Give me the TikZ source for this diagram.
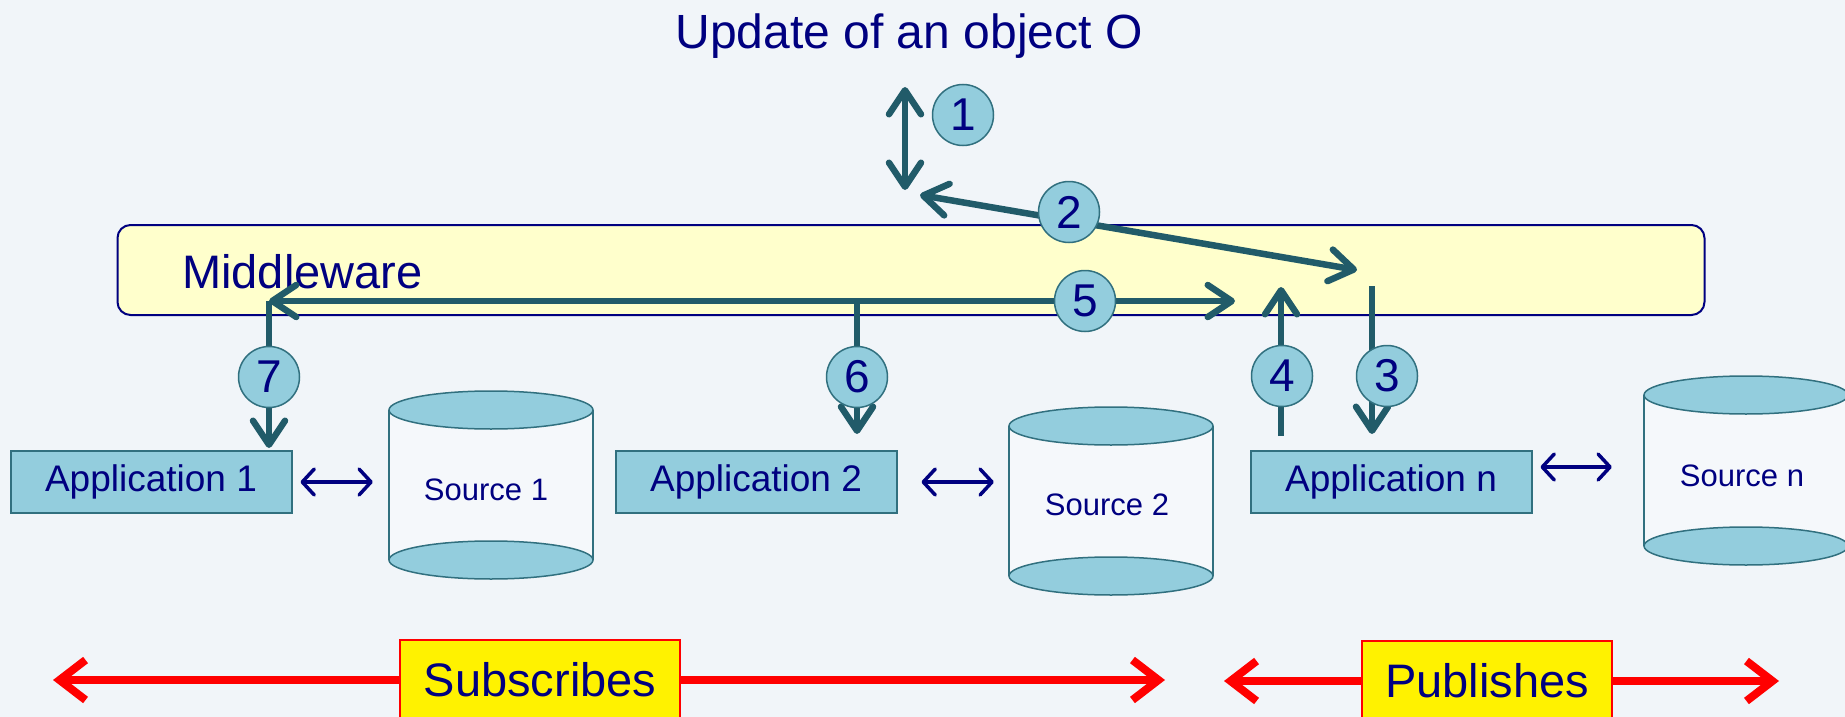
\documentclass[tikz,border=0pt]{standalone}
\usepackage{fontspec}
\setmainfont{Liberation Sans}
\usetikzlibrary{arrows.meta}
\definecolor{navy}{HTML}{000080}
\definecolor{tealA}{HTML}{215B69}
\definecolor{lblue}{HTML}{93CDDD}
\definecolor{boxedge}{HTML}{31707F}
\definecolor{bgc}{HTML}{F1F5F9}
\definecolor{mwfill}{HTML}{FFFFCC}
\newcommand{\mycyl}[3]{%
  \fill[white,opacity=0.35] (#1-102,#2) rectangle (#1+102,#3);
  \draw[cylline] (#1-102,#2) -- (#1-102,#3) (#1+102,#2) -- (#1+102,#3);
  \draw[cylline,fill=lblue] (#1,#3) ellipse [x radius=102pt, y radius=19pt];
  \draw[cylline,fill=lblue] (#1,#2) ellipse [x radius=102pt, y radius=19pt];}
\begin{document}
\begin{tikzpicture}[x=1pt,y=-1pt,
  tarr/.style={draw=tealA, line width=6.5pt, -{Straight Barb[length=24pt,width=32pt,round]}},
  tdbl/.style={draw=tealA, line width=6.5pt, {Straight Barb[length=24pt,width=32pt,round]}-{Straight Barb[length=24pt,width=32pt,round]}},
  num/.style={circle, draw=boxedge, line width=1.5pt, fill=lblue, text=navy, minimum size=61pt, inner sep=0pt, font=\fontsize{46pt}{46pt}\selectfont},
  appbox/.style={draw=boxedge, line width=2pt, fill=lblue, text=navy, minimum width=281pt, minimum height=62pt, inner sep=0pt, font=\fontsize{37pt}{40pt}\selectfont},
  srclabel/.style={text=navy, font=\fontsize{31pt}{34pt}\selectfont, minimum width=204pt, minimum height=40pt, inner sep=0pt},
  cylline/.style={draw=boxedge, line width=1.5pt},
  nav/.style={draw=navy, line width=3.5pt, {Straight Barb[length=12pt,width=26pt,round]}-{Straight Barb[length=12pt,width=26pt,round]}},
  redarr/.style={draw=red, line width=8pt, -{Straight Barb[length=26pt,width=40pt]}},
  tag/.style={draw=red, line width=1.5pt, fill=yellow, text=navy, minimum height=80pt, inner sep=0pt, font=\fontsize{47pt}{50pt}\selectfont}
]
\fill[bgc] (0,0) rectangle (1845,717);
\useasboundingbox (0,0) rectangle (1845,717);

% title
\node[text=navy, font=\fontsize{48pt}{50pt}\selectfont] (title) at (909,36) {Update of an object O};

% middleware
\node[draw=navy, line width=2pt, fill=mwfill, rounded corners=13pt, minimum width=1587pt, minimum height=90pt, inner sep=0pt] (mw) at (911,270) {};
\node[anchor=base west, text=navy, font=\fontsize{47pt}{50pt}\selectfont, inner sep=0pt] (mwlabel) at (182,288) {Middleware};

% applications
\node[appbox] (app1) at (151,482) {Application 1};
\node[appbox] (app2) at (756,482) {Application 2};
\node[appbox] (appn) at (1391,482) {Application n};

% sources
\mycyl{491}{410}{560}
\mycyl{1111}{426}{576}
\mycyl{1746}{395}{546}
\node[srclabel] (src1) at (486,490) {Source 1};
\node[srclabel] (src2) at (1107,505) {Source 2};
\node[srclabel] (srcn) at (1742,476) {Source n};

% app <-> source
\draw[nav, shorten <=8pt, shorten >=11pt] (app1.east) -- (app1.east -| src1.west);
\draw[nav, shorten <=24pt, shorten >=11pt] (app2.east) -- (app2.east -| src2.west);
\coordinate (an) at ([yshift=15pt]appn.east);
\draw[nav, shorten <=8pt, shorten >=28pt] (an) -- (an -| srcn.west);

% teal arrows
\coordinate (a1t) at (905,87);
\coordinate (a1b) at (905,190);
\draw[tdbl] (a1b) -- (a1t);
\coordinate (a2l) at (920,195);
\coordinate (a2r) at (1357,270);
\draw[tdbl] (a2l) -- (a2r);

\coordinate (j5) at (857,301);
\coordinate (j7) at (269,301);
\coordinate (e5) at (1235,301);
\draw[tarr] (j5) -- (j7);
\draw[tarr] (j5) -- (e5);
\draw[tarr, shorten >=2pt] (j7) -- (j7 |- app1.north);
\draw[tarr, shorten >=16pt] (j5) -- (j5 |- app2.north);

\coordinate (t4) at (1281,287);
\draw[tarr, shorten <=14pt] (t4 |- appn.north) -- (t4);
\coordinate (s3) at (1372,286);
\draw[tarr, shorten >=16pt] (s3) -- (s3 |- appn.north);

% numbers
\node[num] (n1) at (963,115) {1};
\node[num] (n2) at (1069,212) {2};
\node[num] (n5) at (1085,301) {5};
\node[num] (n6) at (857,377) {6};
\node[num] (n7) at (269,377) {7};
\node[num] (n4) at (1282,376) {4};
\node[num] (n3) at (1387,376) {3};

% subscribes / publishes
\node[tag, minimum width=280pt] (subs) at (540,680) {Subscribes};
\coordinate (subsL) at (53,680);
\coordinate (subsR) at (1165,680);
\draw[redarr] (subs.west) -- (subsL);
\draw[redarr] (subs.east) -- (subsR);
\node[tag, minimum width=250pt] (pubs) at (1487,681) {Publishes};
\coordinate (pubL) at (1224,681);
\coordinate (pubR) at (1779,681);
\draw[redarr] (pubs.west) -- (pubL);
\draw[redarr] (pubs.east) -- (pubR);
\end{tikzpicture}
\end{document}
